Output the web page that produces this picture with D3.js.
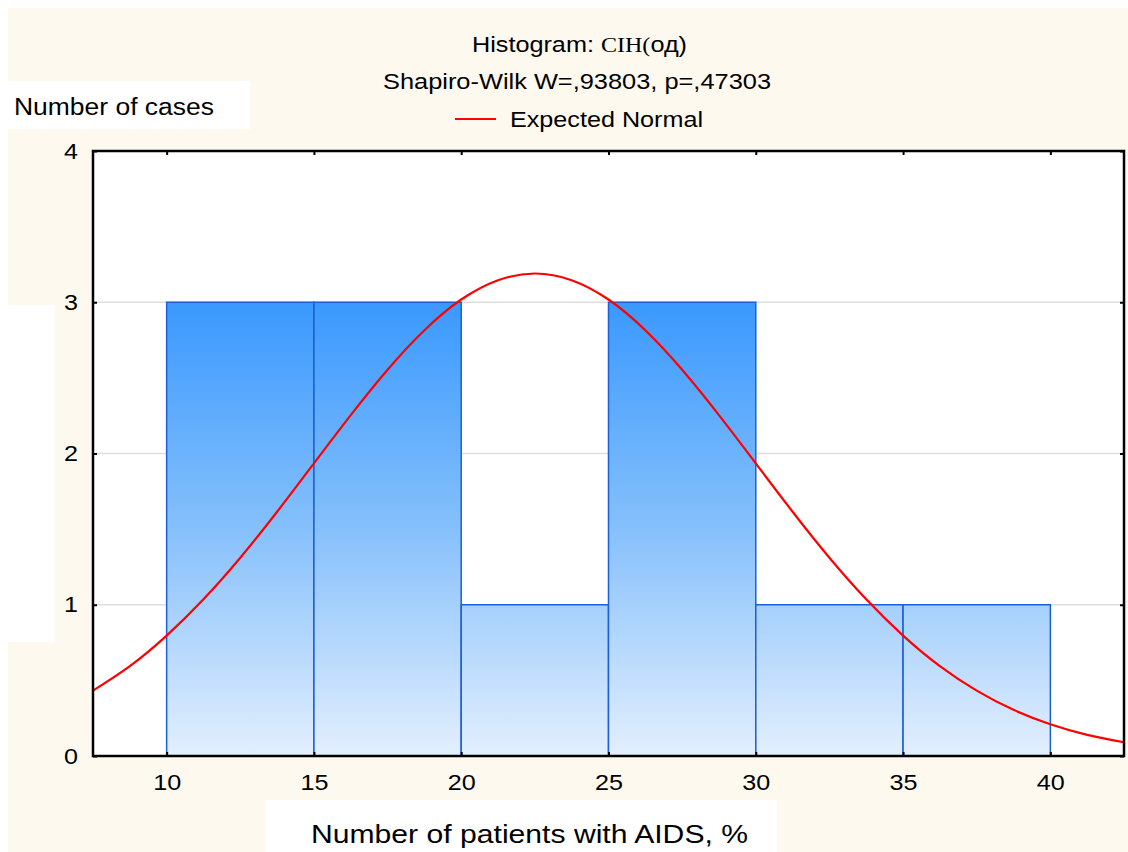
<!DOCTYPE html>
<html>
<head>
<meta charset="utf-8">
<script src="https://cdn.jsdelivr.net/npm/d3@7"></script>
<style>
  html, body { margin: 0; padding: 0; background: #ffffff; }
  svg { display: block; }
  text { font-family: "Liberation Sans", Arial, sans-serif; fill: #000; }
</style>
</head>
<body>
<svg id="chart" width="1128" height="852"></svg>
<script>
// Histogram bins (left edges, width 5) and case counts
const binStarts = [10, 15, 20, 25, 30, 35];
const binWidth = 5;
const counts = [3, 3, 1, 3, 1, 1];

// Expected normal curve, sampled along the x axis
const normalX = [7.5, 8.75, 10, 11.25, 12.5, 13.75, 15, 16.25, 17.5, 18.75, 20, 21.25, 22.5,
                 23.75, 25, 26.25, 27.5, 28.75, 30, 31.25, 32.5, 33.75, 35, 36.25, 37.5, 38.75, 40, 41.25, 42.5];
const normalY = [0.432, 0.594, 0.796, 1.036, 1.311, 1.615, 1.935, 2.254, 2.554, 2.815, 3.018, 3.146, 3.19,
                 3.146, 3.018, 2.815, 2.554, 2.254, 1.935, 1.615, 1.311, 1.036, 0.796, 0.594, 0.432, 0.305, 0.210, 0.140, 0.091];

// Tick values
const xTicks = [10, 15, 20, 25, 30, 35, 40];
const yTicks = [0, 1, 2, 3, 4];
const gridValues = [1, 2, 3];

const svg = d3.select("#chart");
const W = 1128, H = 852;
const plot = { left: 93, right: 1124, top: 151, bottom: 756 };

const x = d3.scaleLinear().domain([7.5, 42.5]).range([plot.left, plot.right]);
const y = d3.scaleLinear().domain([0, 4]).range([plot.bottom, plot.top]);

// Page backgrounds
const beige = "#fdf9ef";
svg.append("rect").attr("x", 8).attr("y", 8).attr("width", W - 8).attr("height", H - 8).attr("fill", beige);
svg.append("rect").attr("x", 0).attr("y", 305).attr("width", 55).attr("height", 337).attr("fill", "#fff");
svg.append("rect").attr("x", 8).attr("y", 81).attr("width", 242).attr("height", 48).attr("fill", "#fff");
svg.append("rect").attr("x", 265).attr("y", 800).attr("width", 512).attr("height", 52).attr("fill", "#fff");

// Plot area
svg.append("rect").attr("x", plot.left).attr("y", plot.top)
  .attr("width", plot.right - plot.left).attr("height", plot.bottom - plot.top).attr("fill", "#fff");

// Grid lines
svg.append("g").selectAll("line").data(gridValues).join("line")
  .attr("x1", plot.left).attr("x2", plot.right)
  .attr("y1", d => y(d)).attr("y2", d => y(d))
  .attr("stroke", "#dedede").attr("stroke-width", 1.5);

// Bar gradient
const defs = svg.append("defs");
const grad = defs.append("linearGradient").attr("id", "barFill")
  .attr("gradientUnits", "userSpaceOnUse")
  .attr("x1", 0).attr("x2", 0).attr("y1", y(3)).attr("y2", y(0));
grad.append("stop").attr("offset", "0%").attr("stop-color", "#3a99fe");
grad.append("stop").attr("offset", "50%").attr("stop-color", "#86c0fb");
grad.append("stop").attr("offset", "100%").attr("stop-color", "#e3effd");

// Bars
svg.append("g").selectAll("rect").data(binStarts).join("rect")
  .attr("x", (d) => x(d))
  .attr("y", (d, i) => y(counts[i]))
  .attr("width", d => x(d + binWidth) - x(d))
  .attr("height", (d, i) => y(0) - y(counts[i]))
  .attr("fill", "url(#barFill)")
  .attr("stroke", "#1b5fd9").attr("stroke-width", 1.5);

// Expected normal curve
const line = d3.line().x((d, i) => x(normalX[i])).y(d => y(d)).curve(d3.curveNatural);
svg.append("path").datum(normalY).attr("d", line)
  .attr("fill", "none").attr("stroke", "#ff0000").attr("stroke-width", 2.2);

// Axes
const xAxis = svg.append("g").attr("transform", `translate(0,${plot.bottom})`)
  .call(d3.axisBottom(x).tickValues(xTicks).tickFormat(d3.format("d")).tickSizeInner(-4).tickSizeOuter(0).tickPadding(18));
const xAxisTop = svg.append("g").attr("transform", `translate(0,${plot.top})`)
  .call(d3.axisTop(x).tickValues(xTicks).tickFormat("").tickSizeInner(-4).tickSizeOuter(0));
const yAxis = svg.append("g").attr("transform", `translate(${plot.left},0)`)
  .call(d3.axisLeft(y).tickValues(yTicks).tickFormat(d3.format("d")).tickSizeInner(-4).tickSizeOuter(0).tickPadding(15));
const yAxisRight = svg.append("g").attr("transform", `translate(${plot.right},0)`)
  .call(d3.axisRight(y).tickValues(yTicks).tickFormat("").tickSizeInner(-4).tickSizeOuter(0));

[xAxis, xAxisTop, yAxis, yAxisRight].forEach(g => {
  g.attr("font-size", null).attr("font-family", null);
  g.select(".domain").remove();
  g.selectAll(".tick line").attr("stroke", "#000").attr("stroke-width", 2);
  g.selectAll(".tick text")
    .style("font-size", "22px")
    .style("font-family", "'Liberation Sans', Arial, sans-serif")
    .attr("fill", "#000")
    .attr("textLength", function () { return this.textContent.length * 14; })
    .attr("lengthAdjust", "spacingAndGlyphs");
});

// Frame
svg.append("rect").attr("x", plot.left).attr("y", plot.top)
  .attr("width", plot.right - plot.left).attr("height", plot.bottom - plot.top)
  .attr("fill", "none").attr("stroke", "#000").attr("stroke-width", 2.5);

// Title
const title = svg.append("text").attr("x", 472).attr("y", 52).attr("font-size", 22)
  .attr("textLength", 215).attr("lengthAdjust", "spacingAndGlyphs");
title.append("tspan").text("Histogram: ");
title.append("tspan").attr("font-family", "Liberation Serif, Times New Roman, serif").attr("font-size", 21).text("CIH(");
title.append("tspan").text("од)");

svg.append("text").attr("x", 383).attr("y", 89).attr("font-size", 22)
  .attr("textLength", 388).attr("lengthAdjust", "spacingAndGlyphs")
  .text("Shapiro-Wilk W=,93803, p=,47303");

// Legend
svg.append("line").attr("x1", 455).attr("x2", 496).attr("y1", 119).attr("y2", 119)
  .attr("stroke", "#ff0000").attr("stroke-width", 2.2);
svg.append("text").attr("x", 510).attr("y", 127).attr("font-size", 22)
  .attr("textLength", 193).attr("lengthAdjust", "spacingAndGlyphs")
  .text("Expected Normal");

// Axis titles
svg.append("text").attr("x", 14).attr("y", 115).attr("font-size", 23)
  .attr("textLength", 200).attr("lengthAdjust", "spacingAndGlyphs")
  .text("Number of cases");
svg.append("text").attr("x", 311).attr("y", 843).attr("font-size", 26)
  .attr("textLength", 437).attr("lengthAdjust", "spacingAndGlyphs")
  .text("Number of patients with AIDS, %");
</script>
</body>
</html>
